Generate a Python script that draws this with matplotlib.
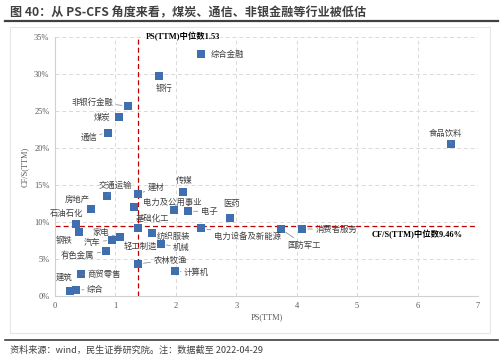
import matplotlib
matplotlib.use("Agg")
import matplotlib.pyplot as plt
from matplotlib.ticker import FuncFormatter
from matplotlib.lines import Line2D
from matplotlib.patches import Rectangle

plt.rcParams['font.family'] = ['Noto Sans CJK SC', 'DejaVu Sans']

# ---- data ----
industries = ['综合金融', '银行', '非银行金融', '煤炭', '通信', '食品饮料', '交通运输', '建材', '传媒',
              '房地产', '电力及公用事业', '基础化工', '电子', '医药', '石油石化', '轻工制造',
              '电力设备及新能源', '国防军工', '消费者服务', '钢铁', '纺织服装', '家电', '汽车',
              '机械', '有色金属', '农林牧渔', '计算机', '商贸零售', '建筑', '综合']
ps_ttm = [2.42, 1.72, 1.20, 1.06, 0.87, 6.56, 0.86, 1.37, 2.11,
          0.59, 1.30, 1.97, 2.20, 2.90, 0.35, 1.37,
          2.42, 3.74, 4.09, 0.39, 1.60, 1.08, 0.95,
          1.75, 0.85, 1.37, 1.98, 0.43, 0.24, 0.35]
cfs_ttm = [32.7, 29.8, 25.7, 24.2, 22.1, 20.6, 13.6, 13.8, 14.1,
           11.8, 12.1, 11.6, 11.5, 10.6, 9.8, 9.2,
           9.2, 9.1, 9.1, 8.7, 8.6, 8.0, 7.6,
           7.1, 6.1, 4.4, 3.4, 3.0, 0.8, 0.9]
ps_median_text = '1.53'
cfs_median_text = '9.46%'
ps_median_line = 1.37
cfs_median_line = 9.55
x_ticks = [0, 1, 2, 3, 4, 5, 6, 7]
y_ticks = [0, 5, 10, 15, 20, 25, 30, 35]

# label offsets in pixels (style)
offsets = {
    '综合金融': (26, 0), '银行': (5, -12.6), '非银行金融': (-35, 3.7), '煤炭': (-17, -0.7),
    '通信': (-19, -4.6), '食品饮料': (-6, 10.7), '交通运输': (8, 10.7), '建材': (18, 7),
    '传媒': (1.3, 11), '房地产': (-13.4, 10), '电力及公用事业': (39, 4), '电子': (21, 0),
    '医药': (1.7, 14), '石油石化': (-9.6, 10.7), '基础化工': (-21.3, -8.4),
    '电力设备及新能源': (46, -7.7), '国防军工': (23.3, -16), '消费者服务': (34, 0),
    '钢铁': (-14.7, -8.3), '纺织服装': (21.6, -3.3), '家电': (-19.3, 4.6), '汽车': (-20.3, -2),
    '轻工制造': (2.3, -18.3), '机械': (20.7, -4), '有色金属': (-28.6, -4.7),
    '农林牧渔': (32.3, 3.7), '计算机': (21.7, -1.4), '商贸零售': (23.3, 0), '建筑': (-5, 13.4),
    '综合': (19, 0),
}
leaders = {'非银行金融', '通信', '交通运输', '建材', '电子', '电力设备及新能源', '国防军工',
           '消费者服务', '家电', '汽车', '机械', '有色金属', '农林牧渔', '计算机', '商贸零售',
           '综合', '食品饮料'}

fig = plt.figure(figsize=(5.0, 3.57), dpi=100)

# title and frame lines
fig.text(0.02, 0.965, '图 40：从 PS-CFS 角度来看，煤炭、通信、非银金融等行业被低估',
         fontsize=8.7, fontweight='bold', color='#404040', va='center', ha='left')
fig.add_artist(Line2D([0.01, 0.995], [0.94, 0.94], color='#404040', lw=1.6))
fig.add_artist(Rectangle((0.02, 0.068), 0.96, 0.855, fill=False, ec='#E6E6E6', lw=0.8))
fig.add_artist(Line2D([0.01, 0.995], [0.048, 0.048], color='#404040', lw=1.2))
fig.text(0.02, 0.02, '资料来源：wind，民生证券研究院。注：数据截至 2022-04-29',
         fontsize=6.6, color='#404040', va='center', ha='left')

ax = fig.add_axes([0.11, 0.1695, 0.846, 0.7269])
ax.set_xlim(0, 7)
ax.set_ylim(0, 35)
ax.set_xticks(x_ticks)
ax.set_yticks(y_ticks)
ax.yaxis.set_major_formatter(FuncFormatter(lambda v, p: f'{int(v)}%'))
for lab in ax.get_xticklabels() + ax.get_yticklabels():
    lab.set_fontfamily(['Liberation Serif'])
ax.tick_params(labelsize=6, colors='#595959', length=0, pad=4)
ax.grid(True, linestyle=(0, (4, 3)), color='#D9D9D9', lw=0.7)
for s in ['top', 'right']:
    ax.spines[s].set_visible(False)
for s in ['left', 'bottom']:
    ax.spines[s].set_color('#D0D0D0')
    ax.spines[s].set_linewidth(0.8)

ax.axvline(ps_median_line, color='#C00000', ls=(0, (4, 2.5)), lw=0.9, zorder=2)
ax.axhline(cfs_median_line, color='#C00000', ls=(0, (4, 2.5)), lw=0.9, zorder=2)

ax.scatter(ps_ttm, cfs_ttm, marker='s', s=30, color='#3F6FAF', zorder=3, linewidths=0)

for name, x, y in zip(industries, ps_ttm, cfs_ttm):
    dx, dy = offsets[name]
    ap = None
    if name in leaders:
        ap = dict(arrowstyle='-', color='#7F7F7F', lw=0.5, shrinkA=0, shrinkB=4)
    ax.annotate(name, (x, y), xytext=(dx, dy), textcoords='offset pixels',
                ha='center', va='center', fontsize=6, color='#404040',
                arrowprops=ap, zorder=4)

ax.text(ps_median_line + 0.75, 35, f'PS(TTM)中位数{ps_median_text}', fontsize=6,
        fontweight='bold', color='#000000', ha='center', va='center',
        family=['Liberation Serif', 'Noto Sans CJK SC'], zorder=5,
        bbox=dict(facecolor='white', edgecolor='none', pad=0.5))
ax.text(6.0, 8.4, f'CF/S(TTM)中位数{cfs_median_text}', fontsize=6,
        fontweight='bold', color='#000000', ha='center', va='center',
        family=['Liberation Serif', 'Noto Sans CJK SC'], zorder=5)

ax.set_xlabel('PS(TTM)', fontsize=6, color='#595959', family=['Liberation Serif'], labelpad=2)
ax.set_ylabel('CF/S(TTM)', fontsize=6, color='#595959', family=['Liberation Serif'], labelpad=4)

fig.savefig('out.png', dpi=100)
